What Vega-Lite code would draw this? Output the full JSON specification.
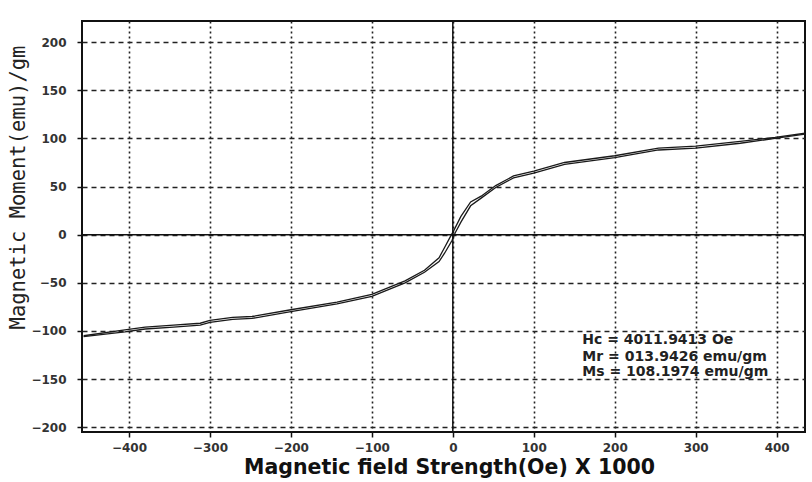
{
  "$schema": "https://vega.github.io/schema/vega-lite/v6.json",
  "width": 723,
  "height": 411,
  "autosize": {"type": "none"},
  "padding": {"left": 82, "top": 21, "right": 7, "bottom": 50},
  "background": "white",
  "config": {
    "view": {"stroke": "#111", "strokeWidth": 2},
    "axis": {"domain": false, "tickColor": "#111", "tickSize": 5, "tickWidth": 1.5, "gridColor": "#222", "gridOpacity": 1, "labelFont": "DejaVu Sans", "labelFontWeight": "bold", "labelFontSize": 12, "labelColor": "#333"}
  },
  "datasets": {
    "loop": [
      {"branch": "descending", "H": 440, "M": 106},
      {"branch": "descending", "H": 398, "M": 101},
      {"branch": "descending", "H": 355, "M": 97},
      {"branch": "descending", "H": 300, "M": 92},
      {"branch": "descending", "H": 254, "M": 90},
      {"branch": "descending", "H": 200, "M": 82},
      {"branch": "descending", "H": 138, "M": 75},
      {"branch": "descending", "H": 100, "M": 66},
      {"branch": "descending", "H": 75, "M": 61},
      {"branch": "descending", "H": 53, "M": 51},
      {"branch": "descending", "H": 35, "M": 40},
      {"branch": "descending", "H": 22, "M": 34},
      {"branch": "descending", "H": 10, "M": 19},
      {"branch": "descending", "H": 1, "M": 4},
      {"branch": "descending", "H": -3, "M": -2},
      {"branch": "descending", "H": -10, "M": -13},
      {"branch": "descending", "H": -17, "M": -24},
      {"branch": "descending", "H": -35, "M": -37},
      {"branch": "descending", "H": -59, "M": -48},
      {"branch": "descending", "H": -100, "M": -62},
      {"branch": "descending", "H": -143, "M": -70},
      {"branch": "descending", "H": -200, "M": -78},
      {"branch": "descending", "H": -248, "M": -85},
      {"branch": "descending", "H": -272, "M": -86},
      {"branch": "descending", "H": -300, "M": -89},
      {"branch": "descending", "H": -312, "M": -92},
      {"branch": "descending", "H": -345, "M": -94},
      {"branch": "descending", "H": -380, "M": -96},
      {"branch": "descending", "H": -405, "M": -99},
      {"branch": "descending", "H": -456, "M": -105},
      {"branch": "ascending", "H": -456, "M": -106},
      {"branch": "ascending", "H": -405, "M": -101},
      {"branch": "ascending", "H": -380, "M": -98},
      {"branch": "ascending", "H": -345, "M": -96},
      {"branch": "ascending", "H": -312, "M": -94},
      {"branch": "ascending", "H": -300, "M": -91},
      {"branch": "ascending", "H": -272, "M": -88},
      {"branch": "ascending", "H": -248, "M": -87},
      {"branch": "ascending", "H": -200, "M": -80},
      {"branch": "ascending", "H": -143, "M": -72},
      {"branch": "ascending", "H": -100, "M": -64},
      {"branch": "ascending", "H": -59, "M": -50},
      {"branch": "ascending", "H": -35, "M": -39},
      {"branch": "ascending", "H": -17, "M": -28},
      {"branch": "ascending", "H": -10, "M": -19},
      {"branch": "ascending", "H": -1, "M": -6},
      {"branch": "ascending", "H": 3, "M": 2},
      {"branch": "ascending", "H": 10, "M": 13},
      {"branch": "ascending", "H": 22, "M": 30},
      {"branch": "ascending", "H": 35, "M": 38},
      {"branch": "ascending", "H": 53, "M": 49},
      {"branch": "ascending", "H": 75, "M": 59},
      {"branch": "ascending", "H": 100, "M": 64},
      {"branch": "ascending", "H": 138, "M": 73},
      {"branch": "ascending", "H": 200, "M": 80},
      {"branch": "ascending", "H": 254, "M": 88},
      {"branch": "ascending", "H": 300, "M": 90},
      {"branch": "ascending", "H": 355, "M": 95},
      {"branch": "ascending", "H": 398, "M": 100},
      {"branch": "ascending", "H": 440, "M": 105}
    ],
    "zero": [{"H": 0, "M": 0}],
    "notes": [
      {"H": 160, "M": -109, "label": "Hc = 4011.9413 Oe"},
      {"H": 160, "M": -127, "label": "Mr = 013.9426 emu/gm"},
      {"H": 160, "M": -143, "label": "Ms = 108.1974 emu/gm"}
    ]
  },
  "encoding": {
    "x": {
      "field": "H", "type": "quantitative",
      "scale": {"domain": [-458, 435], "nice": false, "zero": false},
      "axis": {
        "values": [-400, -300, -200, -100, 0, 100, 200, 300, 400],
        "grid": true, "gridDash": [2, 3], "gridWidth": 1.6,
        "labelPadding": 5,
        "title": "Magnetic field Strength(Oe) X 1000",
        "titleFont": "DejaVu Sans", "titleFontWeight": "bold", "titleFontSize": 20.5, "titleColor": "#111",
        "titleX": 367, "titleY": 35, "titleBaseline": "middle", "titleAlign": "center"
      }
    },
    "y": {
      "field": "M", "type": "quantitative",
      "scale": {"domain": [-205, 222], "nice": false, "zero": false},
      "axis": {
        "values": [-200, -150, -100, -50, 0, 50, 100, 150, 200],
        "grid": true, "gridDash": [5, 4], "gridWidth": 1.5,
        "labelPadding": 11,
        "title": "Magnetic Moment(emu)/gm",
        "titleFont": "DejaVu Sans Mono", "titleFontWeight": "normal", "titleFontSize": 20.5, "titleColor": "#222",
        "titleX": -64, "titleY": 166, "titleBaseline": "middle", "titleAlign": "center", "titleAngle": -90
      }
    }
  },
  "layer": [
    {
      "data": {"name": "loop"},
      "mark": {"type": "line", "color": "#1a1a1a", "strokeWidth": 1.3, "clip": true},
      "encoding": {
        "detail": {"field": "branch", "type": "nominal"}
      }
    },
    {
      "data": {"name": "zero"},
      "mark": {"type": "rule", "color": "#111", "strokeWidth": 1.5},
      "encoding": {"y": null}
    },
    {
      "data": {"name": "zero"},
      "mark": {"type": "rule", "color": "#111", "strokeWidth": 1.5},
      "encoding": {"x": null}
    },
    {
      "data": {"name": "notes"},
      "mark": {"type": "text", "align": "left", "baseline": "middle", "font": "DejaVu Sans", "fontWeight": "bold", "fontSize": 14, "color": "#222"},
      "encoding": {
        "text": {"field": "label", "type": "nominal"}
      }
    }
  ]
}
